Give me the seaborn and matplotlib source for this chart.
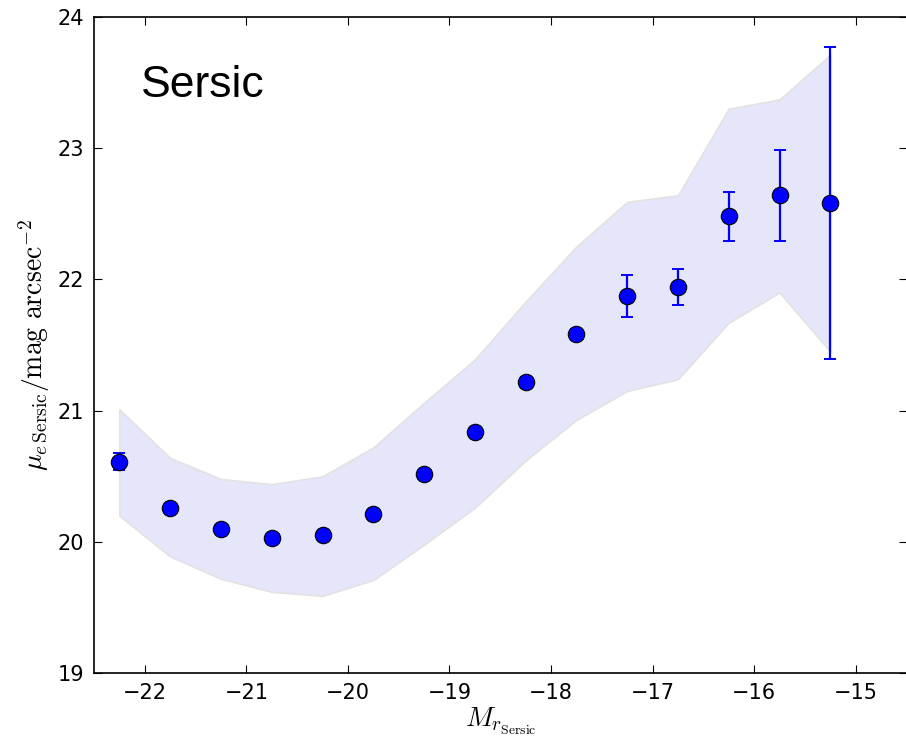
import numpy as np
import pandas as pd
import matplotlib
matplotlib.use("Agg")
import matplotlib.pyplot as plt
import seaborn as sns

# Binned absolute magnitude (bin centres)
mag_bins = [-22.25, -21.75, -21.25, -20.75, -20.25, -19.75, -19.25, -18.75,
            -18.25, -17.75, -17.25, -16.75, -16.25, -15.75, -15.25]
# Mean effective surface brightness per bin and its error on the mean
mu_mean = [20.61, 20.26, 20.10, 20.03, 20.05, 20.21, 20.52, 20.84,
           21.22, 21.58, 21.87, 21.94, 22.48, 22.64, 22.58]
mu_err = [0.065, 0.03, 0.03, 0.03, 0.03, 0.03, 0.03, 0.03,
          0.04, 0.04, 0.16, 0.135, 0.185, 0.345, 1.19]
# Scatter envelope of the distribution in each bin
band_low = [20.20, 19.89, 19.72, 19.62, 19.59, 19.71, 19.98, 20.26,
            20.62, 20.93, 21.15, 21.24, 21.67, 21.90, 21.45]
band_high = [21.01, 20.64, 20.48, 20.44, 20.50, 20.72, 21.06, 21.39,
             21.83, 22.25, 22.59, 22.64, 23.30, 23.37, 23.71]

x_ticks = [-22, -21, -20, -19, -18, -17, -16, -15]
y_ticks = [19, 20, 21, 22, 23, 24]

df = pd.DataFrame({"M": mag_bins, "mu": mu_mean, "err": mu_err,
                   "lo": band_low, "hi": band_high})

sns.set_style("ticks")
plt.rcParams["mathtext.fontset"] = "cm"
plt.rcParams["font.family"] = ["DejaVu Sans"]
for key in ("text.color", "axes.labelcolor", "xtick.color", "ytick.color"):
    plt.rcParams[key] = "black"

fig = plt.figure(figsize=(9.06, 7.36), dpi=100)
ax = fig.add_axes([94 / 906, 1 - 673.3 / 736, 812.5 / 906, (673.3 - 16.7) / 736])

ax.fill_between(df["M"], df["lo"], df["hi"], facecolor="#e6e6fa",
                edgecolor="#e2e2e2", linewidth=1.2, zorder=1)
ax.errorbar(df["M"], df["mu"], yerr=df["err"], fmt="none", ecolor="blue",
            elinewidth=1.6, capsize=4, capthick=1.4, zorder=2)
sns.scatterplot(data=df, x="M", y="mu", ax=ax, s=140, color="blue",
                edgecolor="black", linewidth=0.8, zorder=3, legend=False)

ax.set_xlim(-22.5, -14.5)
ax.set_ylim(19, 24)
ax.set_xticks(x_ticks)
ax.set_yticks(y_ticks)
ax.set_xticklabels([f"\u2212{abs(t)}" for t in x_ticks])
ax.tick_params(direction="in", length=6, width=0.8, top=True, right=True,
               labelsize=15, pad=7)
for s in ax.spines.values():
    s.set_linewidth(1.2)
    s.set_color("black")

ax.set_xlabel(r"$M_{r_{\rm Sersic}}$", fontsize=20, labelpad=2)
ax.set_ylabel(r"$\mu_{e\,{\rm Sersic}}/{\rm mag\ arcsec^{-2}}$", fontsize=20,
              labelpad=4)

ax.text(0.0575, 0.878, "Sersic", transform=ax.transAxes, fontsize=32,
        family=["Liberation Sans"], ha="left", va="baseline")

fig.savefig("out.png", dpi=100)
